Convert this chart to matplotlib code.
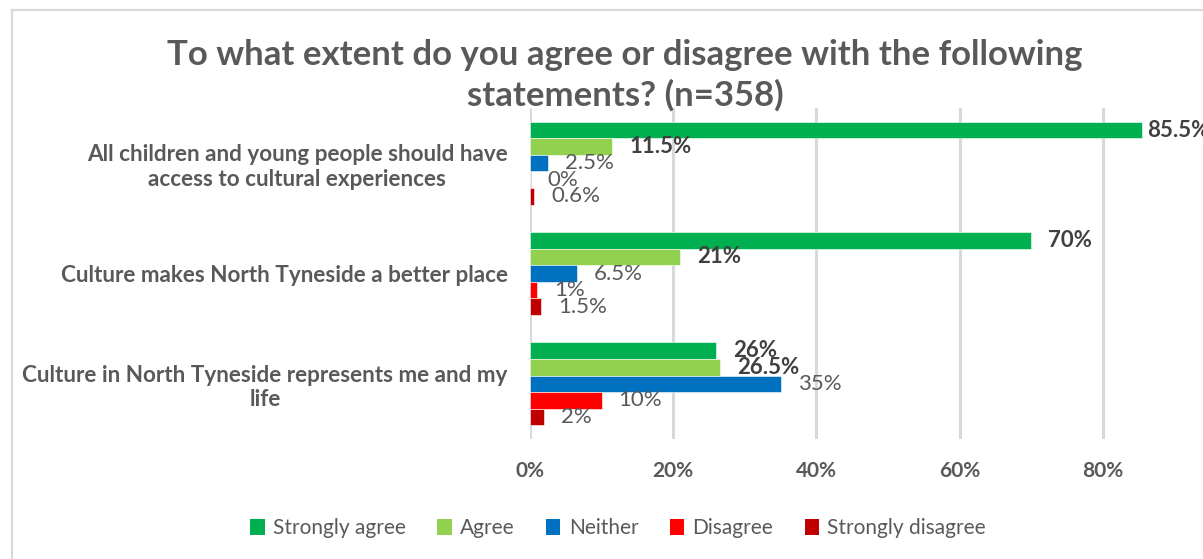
import matplotlib
matplotlib.use("Agg")
import matplotlib.pyplot as plt
import numpy as np
from matplotlib.patches import Patch
from matplotlib.lines import Line2D

# Survey data (percent of respondents)
statements = [
    "All children and young people should have\naccess to cultural experiences",
    "Culture makes North Tyneside a better place",
    "Culture in North Tyneside represents me and my\nlife",
]
series_names = ["Strongly agree", "Agree", "Neither", "Disagree", "Strongly disagree"]
strongly_agree = [85.5, 70, 26]
agree = [11.5, 21, 26.5]
neither = [2.5, 6.5, 35]
disagree = [0, 1, 10]
strongly_disagree = [0.6, 1.5, 2]
value_labels = [
    ["85.5%", "70%", "26%"],
    ["11.5%", "21%", "26.5%"],
    ["2.5%", "6.5%", "35%"],
    ["0%", "1%", "10%"],
    ["0.6%", "1.5%", "2%"],
]
xtick_values = [0, 20, 40, 60, 80]
xtick_labels = ["0%", "20%", "40%", "60%", "80%"]
title = "To what extent do you agree or disagree with the following\nstatements? (n=358)"

series_values = [strongly_agree, agree, neither, disagree, strongly_disagree]
colors = ["#00B050", "#92D050", "#0070C0", "#FF0000", "#C00000"]
bold_series = [True, True, False, False, False]

FONT = "Lato"
W, H = 1203, 559
fig = plt.figure(figsize=(W / 100, H / 100), dpi=100)
fig.patch.set_facecolor("white")

# chart frame
frame_kw = dict(color="#d9d9d9", lw=1.6, transform=fig.transFigure)
fig.add_artist(Line2D([12 / W, 12 / W], [0, 1 - 10 / H], **frame_kw))
fig.add_artist(Line2D([12 / W, 1], [1 - 10 / H, 1 - 10 / H], **frame_kw))

# plot area (the 0-100% range runs past the right edge of the figure)
left, right, top, bottom = 530, 1246, 108, 439
ax = fig.add_axes([left / W, 1 - bottom / H, (right - left) / W, (bottom - top) / H])
ax.set_xlim(0, 100)
ax.set_ylim(len(statements) - 0.5, -0.5)

bar_h = 0.15
y = np.arange(len(statements))
for i, (vals, col) in enumerate(zip(series_values, colors)):
    pos = y + (i - 2) * bar_h
    ax.barh(pos, vals, height=bar_h, color=col, edgecolor="white", linewidth=0.4,
            label=series_names[i], zorder=3)
    for j, v in enumerate(vals):
        pad = 5 if v >= 85 else 17
        ax.annotate(value_labels[i][j], (v, pos[j]), xytext=(pad, 0),
                    textcoords="offset pixels", va="center", ha="left",
                    fontsize=16, family=FONT,
                    fontweight="bold" if bold_series[i] else "normal",
                    color="#404040" if bold_series[i] else "#595959",
                    zorder=4, annotation_clip=False)

ax.set_xticks(xtick_values)
ax.set_xticklabels(xtick_labels, fontsize=15, family=FONT, fontweight="bold", color="#595959")
ax.set_yticks(y)
ax.set_yticklabels(statements, fontsize=16.2, family=FONT, fontweight="bold",
                   color="#595959", multialignment="center")
ax.tick_params(axis="x", length=0, pad=16)
ax.tick_params(axis="y", length=0, pad=16)
ax.grid(axis="x", color="#d9d9d9", lw=2.2, zorder=0)
for s in ax.spines.values():
    s.set_visible(False)

fig.text(625 / W, 1 - 75 / H, title, ha="center", va="center", fontsize=25,
         family=FONT, fontweight="bold", color="#595959", linespacing=1.3)

handles = [Patch(facecolor=c, edgecolor="none") for c in colors]
fig.legend(handles, series_names, loc="center", bbox_to_anchor=(618 / W, 1 - 528 / H),
           ncol=5, frameon=False, prop={"family": FONT, "size": 15},
           labelcolor="#595959", handlelength=0.7, handleheight=0.8,
           handletextpad=0.4, columnspacing=1.5)

fig.savefig("out.png", dpi=100, facecolor="white")
